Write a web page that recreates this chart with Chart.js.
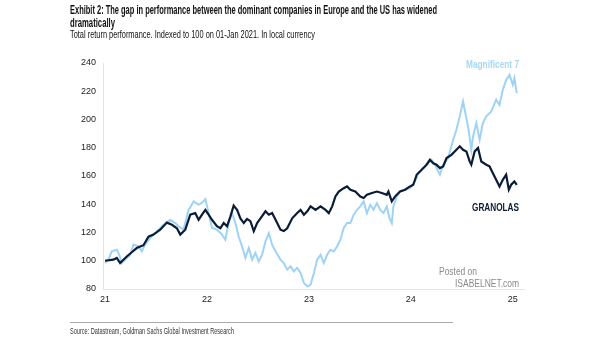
<!DOCTYPE html>
<html><head><meta charset="utf-8">
<script src="https://cdn.jsdelivr.net/npm/chart.js@4/dist/chart.umd.min.js"></script>
<style>
html,body{margin:0;padding:0;background:#fff;}
#wrap{position:relative;width:605px;height:341px;overflow:hidden;font-family:'Liberation Sans',Arial,sans-serif;}
canvas{position:absolute;left:0;top:0;}
.t{position:absolute;white-space:nowrap;color:#111;transform-origin:0 50%;display:inline-block;}
#t1{left:70px;top:4px;font-size:12px;font-weight:bold;line-height:13px;}
#t2{left:70px;top:17px;font-size:12px;font-weight:bold;line-height:13px;}
#t3{left:70px;top:28px;font-size:11px;line-height:13px;}
#src{left:70px;top:326px;font-size:9px;line-height:11px;color:#333;}
#sep{position:absolute;left:70px;top:322px;width:383px;height:1px;background:#aaa;}
</style></head>
<body><div id="wrap">
<canvas id="c" width="605" height="341"></canvas>
<div class="t" id="t1" data-w="367">Exhibit 2: The gap in performance between the dominant companies in Europe and the US has widened</div>
<div class="t" id="t2" data-w="45">dramatically</div>
<div class="t" id="t3" data-w="245">Total return performance. Indexed to 100 on 01-Jan 2021. In local currency</div>
<div id="sep"></div>
<div class="t" id="src" data-w="164">Source: Datastream, Goldman Sachs Global Investment Research</div>
</div>
<script>
const xTickLabels = [21, 22, 23, 24, 25];
const yTickLabels = [80, 100, 120, 140, 160, 180, 200, 220, 240];
const seriesNames = ['Magnificent 7', 'GRANOLAS'];

const granolasX = [21.000,21.082,21.115,21.148,21.213,21.262,21.311,21.377,21.426,21.475,21.541,21.607,21.656,21.705,21.738,21.787,21.836,21.885,21.918,21.951,21.984,22.016,22.049,22.098,22.131,22.164,22.197,22.230,22.262,22.295,22.328,22.361,22.393,22.426,22.459,22.492,22.525,22.574,22.607,22.639,22.689,22.721,22.754,22.787,22.836,22.885,22.918,22.951,22.984,23.016,23.065,23.114,23.163,23.195,23.228,23.260,23.293,23.341,23.374,23.407,23.455,23.504,23.537,23.569,23.618,23.667,23.715,23.764,23.780,23.813,23.846,23.894,23.943,23.992,24.024,24.057,24.106,24.154,24.187,24.220,24.252,24.285,24.317,24.350,24.398,24.447,24.480,24.512,24.545,24.577,24.593,24.626,24.659,24.691,24.740,24.772,24.805,24.837,24.870,24.902,24.935,24.961,24.984,25.016,25.039];
const granolasY = [100,100.8,102,98.4,103,106,109,111,117,118.5,122,127,125.5,123,118.5,122,132.6,133.8,129,132.6,136,132.6,129,124.4,123,126.7,124.4,131.4,139,136,130,126.7,129.6,128,121,126.7,130,135,132.6,133.8,126.7,122,121,123,130,133.8,136,132.6,135,138.5,136,138.5,136,133.7,138.5,145.5,149,151.4,152.6,150.3,149,145.5,144.4,146.7,148,149,148,146.7,149,142,145.5,149,150.3,152.6,153.8,160.9,164.4,168,171.5,169,168,165.6,166.8,172.7,175,178.6,181,178.6,177.4,170.3,168,177.4,179.8,170.3,168,166.8,162,157.3,152.6,157.3,160.9,150.3,153.8,156.2,153.8];

const mag7X = [21.000,21.033,21.066,21.115,21.141,21.164,21.197,21.246,21.279,21.328,21.361,21.393,21.443,21.508,21.574,21.639,21.689,21.721,21.770,21.820,21.869,21.918,21.951,21.984,22.016,22.049,22.098,22.148,22.180,22.213,22.246,22.279,22.311,22.344,22.377,22.410,22.443,22.475,22.508,22.541,22.574,22.607,22.639,22.672,22.721,22.754,22.787,22.820,22.852,22.885,22.918,22.951,22.984,23.016,23.049,23.081,23.114,23.146,23.179,23.211,23.244,23.276,23.309,23.341,23.374,23.407,23.439,23.472,23.504,23.537,23.569,23.602,23.634,23.667,23.699,23.732,23.764,23.790,23.813,23.829,23.862,23.894,23.943,23.992,24.041,24.073,24.122,24.171,24.203,24.236,24.285,24.317,24.366,24.415,24.447,24.480,24.512,24.528,24.561,24.593,24.610,24.642,24.675,24.707,24.740,24.789,24.837,24.870,24.902,24.935,24.967,25.000,25.016,25.039];
const mag7Y = [98.4,100.8,106.7,107.8,104,98.4,100.8,104,111.4,110.2,106.7,111.4,116,120.8,125.5,129,126.7,124.4,122,136,142,139.7,141,143.7,133.8,123.2,122,118.5,115,126.7,133.8,126.7,117.2,110.2,102,109,100.8,105.5,99.6,104.3,113.7,119.6,111.4,106.7,100.8,98.4,93.7,96,92.5,95,91.3,84.2,81.9,83,91.3,100.7,104.2,98.3,104.2,107.8,106.6,110.1,114.9,123.1,126.7,126.7,132.6,136.1,138.5,142,133.7,139.6,136.1,140.8,136.1,133.7,138.5,130.2,126.7,138.5,145.5,149,150.3,151.4,156.2,162,165.6,169.1,171.5,168,160.9,168,172.7,185.7,192.7,202.2,212.8,206.9,195.1,178.6,188,197.5,185.7,197.5,202.2,205.7,214,210.3,221,228,231.7,224.6,229.3,218.7];

// fit HTML text to the condensed widths of the original typeface
document.querySelectorAll('.t[data-w]').forEach(el => {
  const w = el.getBoundingClientRect().width;
  el.style.transform = 'scaleX(' + (parseFloat(el.dataset.w) / w) + ')';
});

const pts = (xs, ys) => xs.map((x, i) => ({x: x, y: ys[i]}));
const FONT = "'Liberation Sans',Arial,sans-serif";

function squeezeText(ctx, text, x, y, targetW) {
  const w = ctx.measureText(text).width;
  const s = Math.min(1, targetW / w);
  ctx.save();
  ctx.translate(x, y);
  ctx.scale(s, 1);
  ctx.fillText(text, 0, 0);
  ctx.restore();
}

const labelPlugin = {
  id: 'labels',
  afterDatasetsDraw(chart) {
    const ctx = chart.ctx, ca = chart.chartArea;
    ctx.save();
    ctx.textAlign = 'right';
    ctx.textBaseline = 'middle';
    ctx.font = "bold 10px " + FONT;
    ctx.fillStyle = '#a8d8f6';
    squeezeText(ctx, seriesNames[0], ca.right - 5, 65, 53);
    ctx.fillStyle = '#0b1c36';
    ctx.font = "bold 10.5px " + FONT;
    squeezeText(ctx, seriesNames[1], ca.right - 5, 208, 47);
    ctx.fillStyle = '#8a8a8a';
    ctx.textAlign = 'left';
    ctx.font = "10px " + FONT;
    squeezeText(ctx, 'Posted on', 439, 272, 38);
    ctx.font = "11px " + FONT;
    squeezeText(ctx, 'ISABELNET.com', 455, 284, 64);
    ctx.restore();
  }
};

new Chart(document.getElementById('c'), {
  type: 'line',
  data: {
    datasets: [
      {label: seriesNames[1], data: pts(granolasX, granolasY), borderColor: '#0b1c36', borderWidth: 2.2, pointRadius: 0, tension: 0, fill: false},
      {label: seriesNames[0], data: pts(mag7X, mag7Y), borderColor: '#9fd3f5', borderWidth: 2, pointRadius: 0, tension: 0, fill: false}
    ]
  },
  options: {
    responsive: false,
    animation: false,
    devicePixelRatio: 1,
    layout: {padding: {left: 0, right: 81, top: 63, bottom: 32}},
    plugins: {legend: {display: false}, tooltip: {enabled: false}},
    scales: {
      x: {
        type: 'linear', min: 20.98, max: 25.11,
        afterBuildTicks: s => { s.ticks = xTickLabels.map(v => ({value: v})); },
        afterFit: s => { s.height = 20; },
        grid: {display: false, drawTicks: false},
        border: {display: true, color: '#e4e4e4', width: 1},
        ticks: {padding: 5, color: '#222', font: {family: FONT, size: 9}, maxRotation: 0, callback: v => String(v)}
      },
      y: {
        min: 80, max: 240,
        afterBuildTicks: s => { s.ticks = yTickLabels.map(v => ({value: v})); },
        afterFit: s => { s.width = 103; },
        grid: {display: false, drawTicks: false},
        border: {display: true, color: '#e4e4e4', width: 1},
        ticks: {padding: 7, color: '#222', font: {family: FONT, size: 9}}
      }
    }
  },
  plugins: [labelPlugin]
});
</script>
</body></html>
